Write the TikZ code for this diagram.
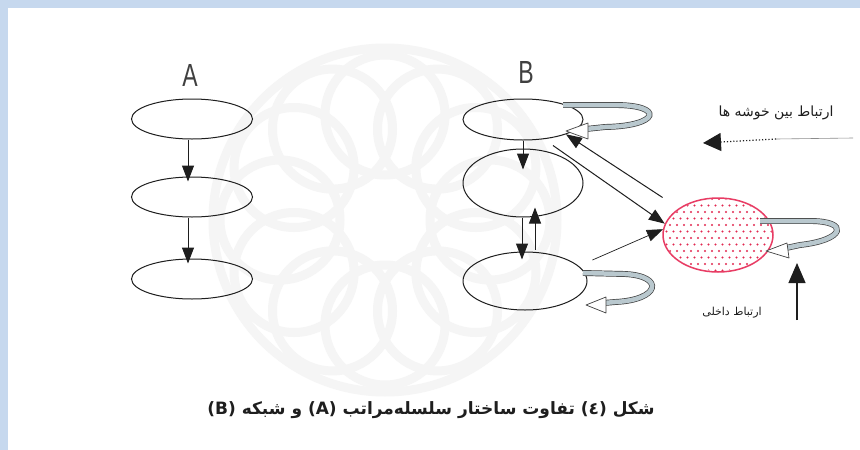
\documentclass[tikz,border=0pt]{standalone}
\usepackage{fontspec}
\setmainfont{Liberation Sans}
\newfontfamily\arabicfont[Script=Arabic]{DejaVu Sans}
\TeXXeTstate=1
\usetikzlibrary{arrows.meta,shapes.geometric,calc}
\definecolor{framebl}{RGB}{198,216,238}
\definecolor{redline}{RGB}{232,60,100}
\definecolor{reddot}{RGB}{225,40,80}
\definecolor{bandfill}{RGB}{185,200,206}
\definecolor{ink}{RGB}{30,30,30}
\begin{document}
\begin{tikzpicture}[x=1pt,y=-1pt,
  oval/.style={ellipse, draw=ink, line width=1pt, inner sep=0pt},
  conn/.style={draw=ink, line width=1pt, -{Triangle[length=16pt,width=12pt]}},
  band/.style={draw=black!75, line width=0.7pt, double=bandfill, double distance=4.5pt},
  headbox/.style={fill=white, draw=black!75, line width=0.7pt, line join=round},
  bigletter/.style={font=\fontsize{32}{32}\selectfont, text=ink!85, inner sep=0pt}
]
\useasboundingbox (0,0) rectangle (860,450);
\fill[white] (0,0) rectangle (860,450);
\fill[framebl] (0,0) rectangle (860,8);
\fill[framebl] (0,0) rectangle (8,450);
% faint watermark
\begin{scope}[shift={(385,220)}, draw=black!4, line width=9pt]
  \foreach \a in {0,30,...,330} \draw (\a:105) circle (60);
  \draw (0,0) circle (172);
\end{scope}
% A
\node[bigletter] (la) at (190,75) {\scalebox{0.72}[1]{A}};
\node[oval, minimum width=121pt, minimum height=40pt] (a1) at (192,119) {};
\node[oval, minimum width=121pt, minimum height=40pt] (a2) at (192,197) {};
\node[oval, minimum width=121pt, minimum height=40pt] (a3) at (192,279) {};
\draw[conn] ([xshift=-4pt]a1.south) -- ([xshift=-4pt,yshift=-5pt]a2.north);
\draw[conn] ([xshift=-4pt]a2.south) -- ([xshift=-4pt,yshift=-5pt]a3.north);
% B
\node[bigletter] (lb) at (526,72) {\scalebox{0.72}[1]{B}};
\node[oval, minimum width=120pt, minimum height=41pt] (b1) at (523,119.5) {};
\node[oval, minimum width=120pt, minimum height=68pt] (b2) at (523,183) {};
\node[oval, minimum width=124pt, minimum height=58pt] (b3) at (525,281) {};
% red dotted cluster
\begin{scope}
  \clip (718,235) ellipse [x radius=54, y radius=36];
  \foreach \i in {0,...,16} \foreach \j in {0,...,11}
    \fill[reddot] ({663+\i*7+mod(\j,2)*3.5},{199+\j*6.5}) circle (1.05);
\end{scope}
\node[ellipse, draw=redline, line width=1.5pt, inner sep=0pt, minimum width=110pt, minimum height=74pt] (r) at (718,235) {};
% B arrows
\draw[conn] (b1.south) -- ([yshift=-21pt]b2.north);
\draw[conn] ([xshift=-1pt]b2.south) -- ([xshift=-3pt,yshift=-8pt]b3.north);
\draw[conn] ([xshift=10pt,yshift=2pt]b3.north) -- ([xshift=12pt,yshift=10pt]b2.south);
\draw[conn] ([xshift=30pt,yshift=-5pt]b1.south) -- (r.168);
\draw[conn] ([xshift=-13pt,yshift=13pt]r.150) -- (b1.-19);
\draw[conn, line width=0.7pt] ([xshift=18pt,yshift=3pt]b3.20) -- (r.174);
% self loops
\draw[band] (563,105) -- (615,105) .. controls (665,105) and (660,126) .. (605,127) -- (586,129);
\draw[headbox] (566,131) -- (588,123) -- (588,139) -- cycle;
\draw[band] (583,273) -- (625,274) .. controls (665,276) and (660,300) .. (615,302) -- (604,303);
\draw[headbox] (586,305) -- (606,297) -- (606,313) -- cycle;
\draw[band] (760,221) -- (810,221) .. controls (850,221) and (845,240) .. (800,245) -- (786,248);
\draw[headbox] (766,251) -- (787,243) -- (789,258) -- cycle;
% inter-cluster arrow
\coordinate (d1) at (853,138);
\coordinate (dm) at (776,139);
\coordinate (d2) at (703,143);
\draw[black!45, line width=0.6pt] (d1) -- (dm);
\draw[ink, line width=1.2pt, dotted, -{Triangle[length=18pt,width=18pt]}] (dm) -- (d2);
\node[font=\arabicfont\fontsize{14}{14}\selectfont, text=ink] (t1) at (776,113) {\beginR ارتباط بین خوشه ها\endR};
% internal arrow
\coordinate (u1) at (797,320);
\coordinate (u2) at (797,263);
\draw[ink, line width=1.2pt, -{Triangle[length=20pt,width=17pt]}] (u1) -- (u2);
\node[font=\arabicfont\fontsize{11}{11}\selectfont, text=ink] (t2) at (732,313) {\beginR ارتباط داخلی\endR};
% caption
\node[font=\arabicfont\bfseries\fontsize{17}{17}\selectfont, text=ink] (cap) at (431,410) {\beginR شکل \beginL(٤)\endL{} تفاوت ساختار سلسله‌مراتب \beginL(A)\endL{} و شبکه \beginL(B)\endL\endR};
\end{tikzpicture}
\end{document}
